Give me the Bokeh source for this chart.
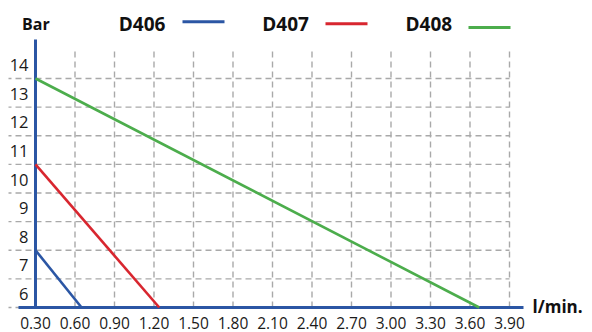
from bokeh.plotting import figure
from bokeh.models import Range1d
from bokeh.core.properties import value
from bokeh.embed import file_html
from bokeh.resources import INLINE

# ---- data ----
flow_ticks = [0.30, 0.60, 0.90, 1.20, 1.50, 1.80, 2.10, 2.40, 2.70, 3.00, 3.30, 3.60, 3.90]
flow_tick_labels = ["0.30", "0.60", "0.90", "1.20", "1.50", "1.80", "2.10",
                    "2.40", "2.70", "3.00", "3.30", "3.60", "3.90"]
bar_ticks = [6, 7, 8, 9, 10, 11, 12, 13, 14]
bar_tick_labels = ["6", "7", "8", "9", "10", "11", "12", "13", "14"]

series_names = ["D406", "D407", "D408"]
series_colors = ["#2b56a4", "#d8262f", "#4cad4c"]
d406_flow = [0.30, 0.65]
d406_bar = [8, 6]
d407_flow = [0.30, 1.24]
d407_bar = [11, 6]
d408_flow = [0.30, 3.67]
d408_bar = [14, 6]

x_title = "l/min."
y_title = "Bar"

# ---- layout (pixel <-> data mapping) ----
W, H = 592, 332
PX_X0, SX = 35.0, 474.0 / 3.6      # x=0.30 at 35 px, px per unit
PY_Y0, SY = 307.0, 229.0 / 8.0     # y=6 at 307 px from top, px per unit


def dx(px):
    return flow_ticks[0] + (px - PX_X0) / SX


def dy(py):
    return bar_ticks[0] + (PY_Y0 - py) / SY


p = figure(width=W, height=H, output_backend="svg", toolbar_location=None,
           x_axis_type=None, y_axis_type=None,
           x_range=Range1d(dx(0), dx(W)), y_range=Range1d(dy(H), dy(0)),
           min_border=0, min_border_left=0, min_border_right=0,
           min_border_top=0, min_border_bottom=0)
p.outline_line_color = None
p.xgrid.visible = False
p.ygrid.visible = False
p.background_fill_color = "white"
p.border_fill_color = "white"

grid_col = "#a9a9a9"
x_lo, x_hi = flow_ticks[0], flow_ticks[-1]
y_lo, y_hi = bar_ticks[0], bar_ticks[-1]

# horizontal grid lines
p.segment(x0=[dx(8)] * len(bar_ticks), x1=[x_hi] * len(bar_ticks),
          y0=bar_ticks, y1=bar_ticks, line_color=grid_col, line_width=1.4,
          line_dash="6 4", line_dash_offset=3)
# vertical grid lines
p.segment(x0=flow_ticks, x1=flow_ticks, y0=[y_lo] * len(flow_ticks),
          y1=[y_hi + 1] * len(flow_ticks), line_color=grid_col, line_width=1.4,
          line_dash="6 4")

# axis lines
axis_col = "#2b56a4"
p.line(x=[x_lo, x_lo], y=[y_lo, dy(39)], line_color=axis_col, line_width=3)
p.line(x=[dx(18), dx(523)], y=[y_lo, y_lo], line_color=axis_col, line_width=3)

# data lines
for fx, by, col in [(d406_flow, d406_bar, series_colors[0]),
                    (d407_flow, d407_bar, series_colors[1]),
                    (d408_flow, d408_bar, series_colors[2])]:
    p.line(x=fx, y=by, line_color=col, line_width=2.6)

# tick labels
p.text(x=[x_lo] * len(bar_ticks), y=bar_ticks, text=bar_tick_labels,
       text_font=value("Open Sans"), text_font_size=value("16.5px"),
       text_color="#1a1a1a", text_align="right", text_baseline="middle",
       x_offset=-7, y_offset=-13.5)
p.text(x=flow_ticks, y=[y_lo] * len(flow_ticks), text=flow_tick_labels,
       text_font=value("Open Sans"), text_font_size=value("15.5px"),
       text_color="#1a1a1a", text_align="center", text_baseline="middle",
       y_offset=15)

# axis titles
p.text(x=[dx(21.5)], y=[dy(23.3)], text=[y_title], text_font=value("Open Sans"),
       text_font_size=value("16px"), text_font_style="bold", text_color="#111111",
       text_align="left", text_baseline="middle")
p.text(x=[dx(532)], y=[dy(306)], text=[x_title], text_font=value("Open Sans"),
       text_font_size=value("17px"), text_font_style="bold", text_color="#111111",
       text_align="left", text_baseline="middle")

# legend (label then line)
leg_text_x = [118.3, 261.7, 405.0]
leg_line_x = [(182, 224), (325, 367), (468, 510)]
leg_line_y = [21.3, 23.3, 27.0]
p.text(x=[dx(v) for v in leg_text_x], y=[dy(23.8)] * 3, text=series_names,
       text_font=value("Open Sans"), text_font_size=value("19px"),
       text_font_style="bold", text_color="#111111",
       text_align="left", text_baseline="middle")
for (a, b), yy, col in zip(leg_line_x, leg_line_y, series_colors):
    p.line(x=[dx(a), dx(b)], y=[dy(yy), dy(yy)], line_color=col, line_width=3)

open("out.html", "w").write(file_html(p, INLINE))
